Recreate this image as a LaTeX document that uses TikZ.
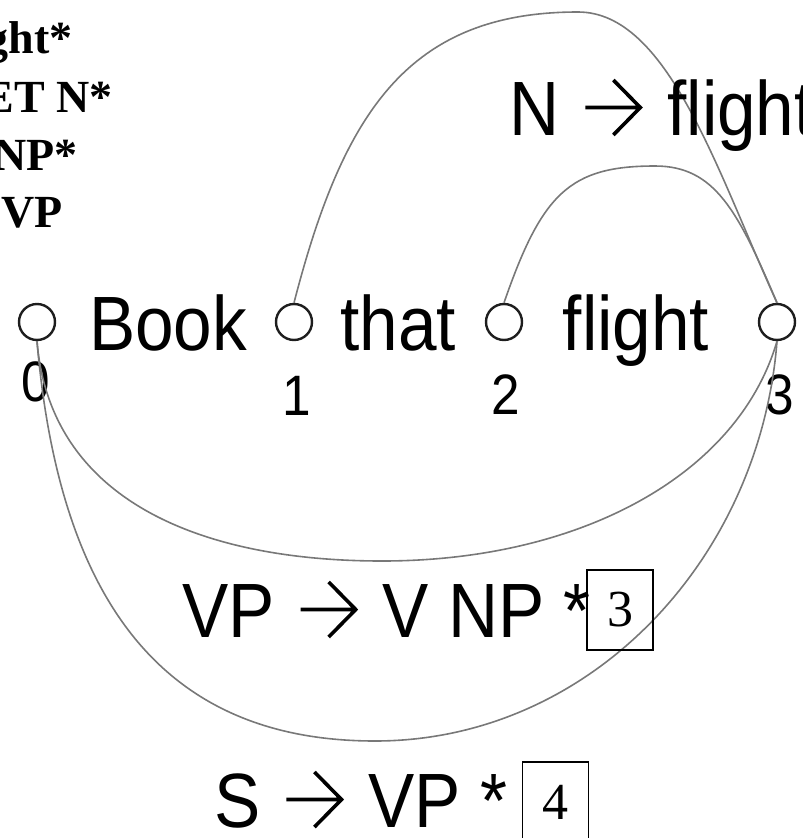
\documentclass[tikz,border=0pt]{standalone}
\usepackage{fontspec}
\newfontfamily\lab[FakeStretch=0.9]{Liberation Sans}
\newfontfamily\ser{Liberation Serif}
\definecolor{arcgray}{RGB}{120,120,120}
\definecolor{ink}{RGB}{30,30,30}
\newcommand\bigarr{\hspace{5pt}\tikz[baseline=0pt,x=1pt,y=1pt]
  \draw[black,line width=3.6pt,line join=miter,line cap=butt]
  (0,27.5)--(56,27.5) (28,55)--(55,27.5)--(28,0);\hspace{5pt}}
\begin{document}
\begin{tikzpicture}[x=1pt,y=-1pt,
  word/.style={font=\lab\fontsize{77}{77}\selectfont, inner sep=0pt, anchor=base},
  rulelab/.style={font=\lab\fontsize{77}{77}\selectfont, inner sep=0pt, anchor=base west},
  idx/.style={font=\lab\fontsize{57}{57}\selectfont, inner sep=0pt},
  dot/.style={circle, draw=ink, line width=2.4pt, minimum size=36pt, inner sep=0pt},
  arcline/.style={draw=arcgray, line width=1.6pt},
  numbox/.style={draw=black, line width=1.5pt, minimum width=66pt, minimum height=80pt, inner sep=0pt, font=\ser\fontsize{52}{52}\selectfont},
  prevrule/.style={font=\ser\bfseries\fontsize{46}{46}\selectfont, inner sep=0pt, anchor=base east}]
\useasboundingbox (0,0) rectangle (803,838);
% previous rules (cut at the left edge, as in the reference)
\node[prevrule] (p1) at (73,53) {ght*};
\node[prevrule] (p2) at (113,112) {ET N*};
\node[prevrule] (p3) at (78,170) {NP*};
\node[prevrule] (p4) at (63,227) {VP};
% chart vertices
\node[dot] (n0) at (37,322) {};
\node[dot] (n1) at (294,322) {};
\node[dot] (n2) at (504,322) {};
\node[dot] (n3) at (777,322) {};
% words
\node[word] (w1) at (168,350) {Book};
\node[word] (w2) at (398,350) {that};
\node[word] (w3) at (636,350) {flight};
% indices
\node[idx] (i0) at (36,382) {0};
\node[idx] (i1) at (297,396) {1};
\node[idx] (i2) at (506,395) {2};
\node[idx] (i3) at (780,395) {3};
% edges
\draw[arcline] (n1.north) .. controls (343,113) and (408,12) .. (578,12)
  .. controls (668,12) and (717,171) .. (n3.north);
\draw[arcline] (n2.north) .. controls (542,193) and (570,166) .. (655,166)
  .. controls (715,166) and (738,211) .. (n3.north);
\draw[arcline] (n0.south) .. controls (50,500) and (200,561) .. (382,561)
  .. controls (580,561) and (738,475) .. (n3.south);
\draw[arcline] (n0.south) .. controls (60,610) and (170,741) .. (375,741)
  .. controls (590,741) and (760,560) .. (n3.south);
% edge labels
\node[rulelab] (r1) at (509,135) {N \bigarr{} flight};
\node[rulelab] (r2) at (182,637) {VP \bigarr{} V NP *};
\node[rulelab] (r3) at (214,827) {S \bigarr{} VP *};
\node[numbox] (b3) at (620,610) {3};
\node[numbox] (b4) at (555.5,802) {4};
\end{tikzpicture}
\end{document}
